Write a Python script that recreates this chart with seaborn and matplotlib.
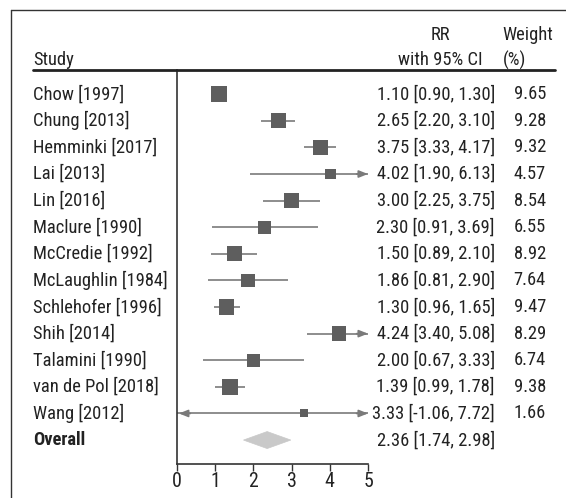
import matplotlib
matplotlib.use("Agg")
import matplotlib.pyplot as plt
import seaborn as sns
import numpy as np
import pandas as pd
from matplotlib import font_manager
from matplotlib.transforms import blended_transform_factory
from matplotlib.lines import Line2D
from matplotlib.patches import Polygon

# ---------------- data ----------------
studies = ["Chow [1997]", "Chung [2013]", "Hemminki [2017]", "Lai [2013]", "Lin [2016]",
           "Maclure [1990]", "McCredie [1992]", "McLaughlin [1984]", "Schlehofer [1996]",
           "Shih [2014]", "Talamini [1990]", "van de Pol [2018]", "Wang [2012]"]
rr = [1.10, 2.65, 3.75, 4.02, 3.00, 2.30, 1.50, 1.86, 1.30, 4.24, 2.00, 1.39, 3.33]
ci_low = [0.90, 2.20, 3.33, 1.90, 2.25, 0.91, 0.89, 0.81, 0.96, 3.40, 0.67, 0.99, -1.06]
ci_high = [1.30, 3.10, 4.17, 6.13, 3.75, 3.69, 2.10, 2.90, 1.65, 5.08, 3.33, 1.78, 7.72]
weights = [9.65, 9.28, 9.32, 4.57, 8.54, 6.55, 8.92, 7.64, 9.47, 8.29, 6.74, 9.38, 1.66]
overall_label = "Overall"
overall_rr, overall_low, overall_high = 2.36, 1.74, 2.98
x_ticks = [0, 1, 2, 3, 4, 5]

# ---------------- style ----------------
sns.set_theme(style="white")
names = {f.name for f in font_manager.fontManager.ttflist}
fam = ["Liberation Sans", "DejaVu Sans"]
fs = 11.5
for cand, size in [("Roboto Condensed", 13.3), ("Arial Narrow", 14),
                   ("Liberation Sans Narrow", 14), ("Fira Sans Condensed", 13.3)]:
    if cand in names:
        fam = [cand, "DejaVu Sans"]
        fs = size
        break
plt.rcParams["font.family"] = fam

TXT = "#222222"
SQ = "#5e5e5e"
LN = "#7a7a7a"
DIA = "#c9c9c9"
AX = "#333333"

W, H = 566, 498
fig = plt.figure(figsize=(W / 100, H / 100), dpi=100)


def fx(px):
    return px / W


def fy(py):
    return 1 - py / H


XMIN, XMAX = 0, 5
ax = fig.add_axes([fx(177), fy(464), fx(368) - fx(177), fy(70) - fy(464)])
ax.set_xlim(XMIN, XMAX)
n = len(studies)
ax.set_ylim(n + 0.9, -0.91)

rows = np.arange(n)
df = pd.DataFrame({"study": studies, "rr": rr, "lo": ci_low, "hi": ci_high,
                   "w": weights, "row": rows})

# CI lines (clipped to axis range, arrows where clipped)
for _, r in df.iterrows():
    lo_c = max(r.lo, XMIN)
    hi_c = min(r.hi, XMAX)
    ax.hlines(r.row, lo_c, hi_c, color=LN, lw=1.2, zorder=2)
    ap = dict(arrowstyle="-|>,head_length=0.45,head_width=0.18", color=LN, lw=1.2,
              shrinkA=0, shrinkB=0)
    if r.hi > XMAX:
        ax.annotate("", xy=(XMAX, r.row), xytext=(XMAX - 0.3, r.row), arrowprops=ap, zorder=2)
    if r.lo < XMIN:
        ax.annotate("", xy=(XMIN + 0.05, r.row), xytext=(XMIN + 0.35, r.row), arrowprops=ap, zorder=2)

# squares sized by weight
side_px = 6.5 + 0.95 * df["w"].to_numpy()
sns.scatterplot(data=df, x="rr", y="row", marker="s", s=(side_px * 0.72) ** 2,
                color=SQ, linewidth=0, ax=ax, zorder=3, legend=False)

# overall diamond
oy = n
half_h = 8.5 / 26.6
ax.add_patch(Polygon([(overall_low, oy), (overall_rr, oy - half_h),
                      (overall_high, oy), (overall_rr, oy + half_h)],
                     closed=True, facecolor=DIA, edgecolor=DIA, lw=0.5, zorder=3))

# axes styling
ax.set_xticks(x_ticks)
ax.set_xticklabels([str(t) for t in x_ticks])
ax.set_yticks([])
ax.set_xlabel("")
ax.set_ylabel("")
ax.tick_params(axis="x", length=5, width=1, direction="out", pad=1,
               labelsize=fs + 1, colors=AX, labelcolor=TXT, bottom=True)
sns.despine(ax=ax)
for s in ("left", "bottom"):
    ax.spines[s].set_color(AX)
    ax.spines[s].set_linewidth(1.2)
ax.patch.set_alpha(0)

# text columns
trans = blended_transform_factory(fig.transFigure, ax.transData)
for _, r in df.iterrows():
    ax.text(fx(33), r.row, r.study, transform=trans, ha="left", va="center",
            fontsize=fs, color=TXT)
    ax.text(fx(495), r.row, f"{r.rr:.2f} [{r.lo:.2f}, {r.hi:.2f}]", transform=trans,
            ha="right", va="center", fontsize=fs, color=TXT)
    ax.text(fx(546), r.row, f"{r.w:.2f}", transform=trans, ha="right", va="center",
            fontsize=fs, color=TXT)
ax.text(fx(33), oy, overall_label, transform=trans, ha="left", va="center",
        fontsize=fs, color=TXT, fontweight="bold")
ax.text(fx(495), oy, f"{overall_rr:.2f} [{overall_low:.2f}, {overall_high:.2f}]",
        transform=trans, ha="right", va="center", fontsize=fs, color=TXT)

# headers
fig.text(fx(33), fy(60), "Study", ha="left", va="center", fontsize=fs, color=TXT)
fig.text(fx(440), fy(35), "RR", ha="center", va="center", fontsize=fs, color=TXT)
fig.text(fx(440), fy(60), "with 95% CI", ha="center", va="center", fontsize=fs, color=TXT)
fig.text(fx(502), fy(35), "Weight", ha="left", va="center", fontsize=fs, color=TXT)
fig.text(fx(503), fy(60), "(%)", ha="left", va="center", fontsize=fs, color=TXT)

# header rule and outer frame
fig.add_artist(Line2D([fx(33), fx(555)], [fy(70), fy(70)], lw=2, color=TXT))
fig.add_artist(Line2D([fx(11), fx(11)], [fy(10), 0], lw=1, color=AX))
fig.add_artist(Line2D([fx(11), 1], [fy(10), fy(10)], lw=1, color=AX))

fig.savefig("out.png", dpi=100)
